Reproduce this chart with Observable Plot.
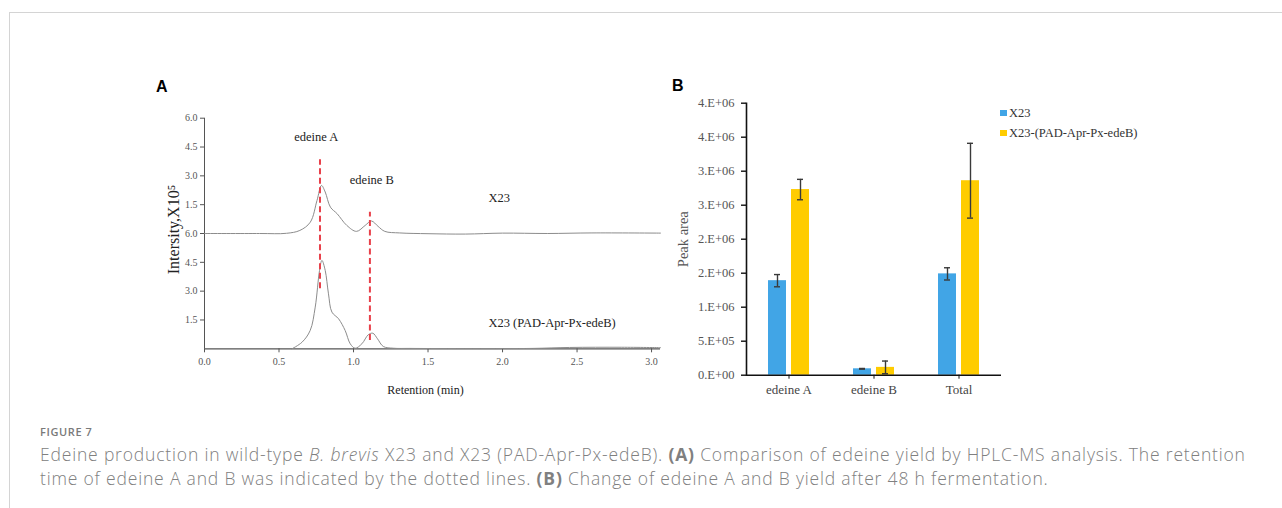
<!DOCTYPE html>
<html>
<head>
<meta charset="utf-8">
<script src="https://cdn.jsdelivr.net/npm/d3@7"></script>
<script src="https://cdn.jsdelivr.net/npm/@observablehq/plot@0.6"></script>
<style>
  html, body { margin: 0; padding: 0; background: #fff; }
  body { width: 1282px; height: 508px; position: relative; overflow: hidden; }
  #frameBox { position: absolute; left: 9px; top: 12px; right: -2px; bottom: -2px;
    border-top: 1.5px solid #d4d4d4; border-left: 1.5px solid #d4d4d4; }
  .panel-letter { position: absolute; font-family: "Liberation Sans", Arial, sans-serif; font-weight: bold; font-size: 16px; color: #000; }
  #chartA { position: absolute; left: 150px; top: 100px; }
  #chartB { position: absolute; left: 660px; top: 80px; }
  #legend { position: absolute; left: 1000px; top: 103px; font-family: "Liberation Serif", "Times New Roman", serif; font-size: 12.5px; color: #333; }
  #legend .item { display: flex; align-items: center; height: 20px; }
  #legend .sw { width: 6.5px; height: 6.5px; margin-right: 2.5px; }
  #caption { position: absolute; left: 40px; top: 422px; font-family: "Open Sans", sans-serif; color: #808080; }
  #caption .fig { font-size: 11px; font-weight: 600; letter-spacing: 0.6px; color: #7a7a7a; line-height: 20px; }
  #caption .txt { font-size: 17.5px; letter-spacing: 0.82px; line-height: 24px; font-weight: 300; white-space: nowrap; }
  #caption .txt b { font-weight: 700; }
</style>
</head>
<body>
<div id="frameBox"></div>
<div class="panel-letter" style="left:156px; top:78px;">A</div>
<div class="panel-letter" style="left:672px; top:77px;">B</div>
<div id="chartA"></div>
<div id="chartB"></div>
<div id="legend"></div>
<div id="caption">
  <div class="fig">FIGURE 7</div>
  <div class="txt">Edeine production in wild-type <i>B. brevis</i> X23 and X23 (PAD-Apr-Px-edeB). <b>(A)</b> Comparison of edeine yield by HPLC-MS analysis. The retention</div>
  <div class="txt">time of edeine A and B was indicated by the dotted lines. <b>(B)</b> Change of edeine A and B yield after 48 h fermentation.</div>
</div>
<script>
// ---------- Panel A data: chromatograms (intensity ×10^5 vs retention, min) ----------
const x23Retention = [0, 0.37, 0.55, 0.64, 0.71, 0.755, 0.785, 0.81, 0.845, 0.89, 0.955, 1.02, 1.078, 1.12, 1.165, 1.21, 1.31, 1.5, 1.75, 2.0, 2.3, 2.6, 3.06];
const x23Intensity = [0, 0, 0.01, 0.16, 0.59, 1.72, 2.5, 2.16, 1.37, 1.03, 0.42, 0.11, 0.42, 0.65, 0.37, 0.11, 0.03, -0.01, -0.03, 0.02, 0.0, 0.03, 0.02];
const edebRetention = [0.587, 0.654, 0.709, 0.743, 0.772, 0.788, 0.81, 0.832, 0.855, 0.9, 0.944, 0.978, 1.011, 1.056, 1.1, 1.13, 1.161, 1.2, 1.268, 1.38, 1.8, 2.2, 2.45, 2.8, 3.06];
const edebIntensity = [0, 0.34, 0.95, 2.17, 4.08, 4.6, 4.08, 2.86, 1.91, 1.56, 0.95, 0.26, 0.03, 0.26, 0.74, 0.81, 0.52, 0.12, 0.03, 0.02, 0.01, 0.02, 0.07, 0.08, 0.06];
const traceOffset = 6; // upper trace (X23) is stacked 6 units above the lower one
const retentionTicks = [0, 0.5, 1.0, 1.5, 2.0, 2.5, 3.0];
const intensityTicks = [1.5, 3, 4.5, 6, 7.5, 9, 10.5, 12];
const intensityTickLabels = ["1.5", "3.0", "4.5", "6.0", "1.5", "3.0", "4.5", "6.0"];
const peakMarkers = [
  {retention: 0.775, from: 3.12, to: 9.84},
  {retention: 1.11, from: 0.43, to: 7.11}
];
const peakLabels = [
  {retention: 0.75, y: 11.02, text: "edeine A"},
  {retention: 1.123, y: 8.77, text: "edeine B"}
];
const traceLabels = [
  {retention: 1.905, y: 7.84, text: "X23"},
  {retention: 1.905, y: 1.33, text: "X23 (PAD-Apr-Px-edeB)"}
];

// ---------- Panel B data: peak areas ----------
const categories = ["edeine A", "edeine B", "Total"];
const strains = ["X23", "X23-(PAD-Apr-Px-edeB)"];
const x23Area = [1.39e6, 0.094e6, 1.49e6];
const x23Err = [0.09e6, 0.005e6, 0.09e6];
const edebArea = [2.73e6, 0.115e6, 2.86e6];
const edebErr = [0.15e6, 0.093e6, 0.55e6];
const areaTicks = [0, 5e5, 1e6, 1.5e6, 2e6, 2.5e6, 3e6, 3.5e6, 4e6];
const areaTickLabels = ["0.E+00", "5.E+05", "1.E+06", "2.E+06", "2.E+06", "3.E+06", "3.E+06", "4.E+06", "4.E+06"];
const strainColors = ["#41a5e6", "#ffcc00"];

// ---------- Panel A ----------
const upper = x23Retention.map((r, i) => ({r, v: x23Intensity[i] + traceOffset}));
const lower = edebRetention.map((r, i) => ({r, v: edebIntensity[i]}));
const serif = "'Liberation Serif', 'Times New Roman', serif";

const chartA = Plot.plot({
  width: 520, height: 305,
  marginLeft: 54, marginRight: 10, marginTop: 17.7, marginBottom: 56.7,
  style: {fontFamily: serif, fontSize: "10px", color: "#444", background: "transparent", overflow: "visible"},
  x: {domain: [0, 3.06]},
  y: {domain: [0, 12]},
  marks: [
    Plot.axisX({ticks: retentionTicks, tickFormat: d => d.toFixed(1), tickSize: 4, tickPadding: 5, label: null, stroke: "#555", fill: "#555"}),
    Plot.axisY({ticks: intensityTicks, tickFormat: (d, i) => intensityTickLabels[i], tickSize: 4, tickPadding: 3, label: null, stroke: "#555", fill: "#555"}),
    Plot.ruleX([0], {stroke: "#555"}),
    Plot.ruleY([0], {stroke: "#555", strokeWidth: 1.2}),
    Plot.line(upper, {x: "r", y: "v", curve: "catmull-rom", stroke: "#8c8c8c", strokeWidth: 1}),
    Plot.line(lower, {x: "r", y: "v", curve: "catmull-rom", stroke: "#8c8c8c", strokeWidth: 1}),
    Plot.ruleX(peakMarkers, {x: "retention", y1: "from", y2: "to", stroke: "#e8404a", strokeWidth: 2, strokeDasharray: "6,3.5"}),
    Plot.text(peakLabels, {x: "retention", y: "y", text: "text", textAnchor: "middle", fontSize: 12.5, fill: "#222"}),
    Plot.text(traceLabels, {x: "retention", y: "y", text: "text", textAnchor: "start", fontSize: 12.5, fill: "#222"}),
    Plot.text(["Intersity,X10\u2075"], {frameAnchor: "left", textAnchor: "middle", dx: -31, dy: -4, rotate: -90, fontSize: 16, fill: "#222"}),
    Plot.text(["Retention (min)"], {frameAnchor: "bottom", dx: -7, dy: 45, fontSize: 12, fill: "#222"})
  ]
});
document.getElementById("chartA").append(chartA);

// ---------- Panel B ----------
const rows = [];
categories.forEach((c, i) => {
  rows.push({category: c, strain: strains[0], value: x23Area[i], err: x23Err[i]});
  rows.push({category: c, strain: strains[1], value: edebArea[i], err: edebErr[i]});
});

const chartB = Plot.plot({
  width: 520, height: 330,
  marginLeft: 85, marginRight: 178, marginTop: 22.7, marginBottom: 35.3,
  style: {fontFamily: serif, fontSize: "12.5px", color: "#444", background: "transparent", overflow: "visible"},
  fx: {domain: categories, padding: 0},
  x: {domain: strains, paddingInner: 0.208, paddingOuter: 0.89, axis: null},
  y: {domain: [0, 4e6]},
  color: {domain: strains, range: strainColors},
  marks: [
    Plot.barY(rows, {fx: "category", x: "strain", y: "value", fill: "strain"}),
    Plot.ruleX(rows, {fx: "category", x: "strain", y1: d => d.value - d.err, y2: d => d.value + d.err, stroke: "#3a3a3a", strokeWidth: 1.4}),
    Plot.tickY(rows, {fx: "category", x: "strain", y: d => d.value - d.err, stroke: "#3a3a3a", strokeWidth: 1.4, insetLeft: 6, insetRight: 6}),
    Plot.tickY(rows, {fx: "category", x: "strain", y: d => d.value + d.err, stroke: "#3a3a3a", strokeWidth: 1.4, insetLeft: 6, insetRight: 6}),
    Plot.ruleY([0], {stroke: "#111", strokeWidth: 1.6}),
    Plot.frame({anchor: "left", facetAnchor: "left", stroke: "#111", strokeWidth: 1.6}),
    Plot.axisY({ticks: areaTicks, tickFormat: (d, i) => areaTickLabels[i], tickSize: 5, tickPadding: 7, label: null, stroke: "#111", fill: "#555", strokeWidth: 1.4}),
    Plot.axisFx({anchor: "bottom", tickSize: 4, tickPadding: 6, label: null, fontSize: 13, stroke: "#111", fill: "#444"}),
    Plot.text(["Peak area"], {frameAnchor: "left", facetAnchor: "left", textAnchor: "middle", dx: -62.7, rotate: -90, fontSize: 14.5, fill: "#555"})
  ]
});
document.getElementById("chartB").append(chartB);

// legend
const legend = document.getElementById("legend");
strains.forEach((s, i) => {
  const item = document.createElement("div");
  item.className = "item";
  const sw = document.createElement("span");
  sw.className = "sw";
  sw.style.background = strainColors[i];
  const label = document.createElement("span");
  label.textContent = s;
  item.append(sw, label);
  legend.append(item);
});
</script>
</body>
</html>
